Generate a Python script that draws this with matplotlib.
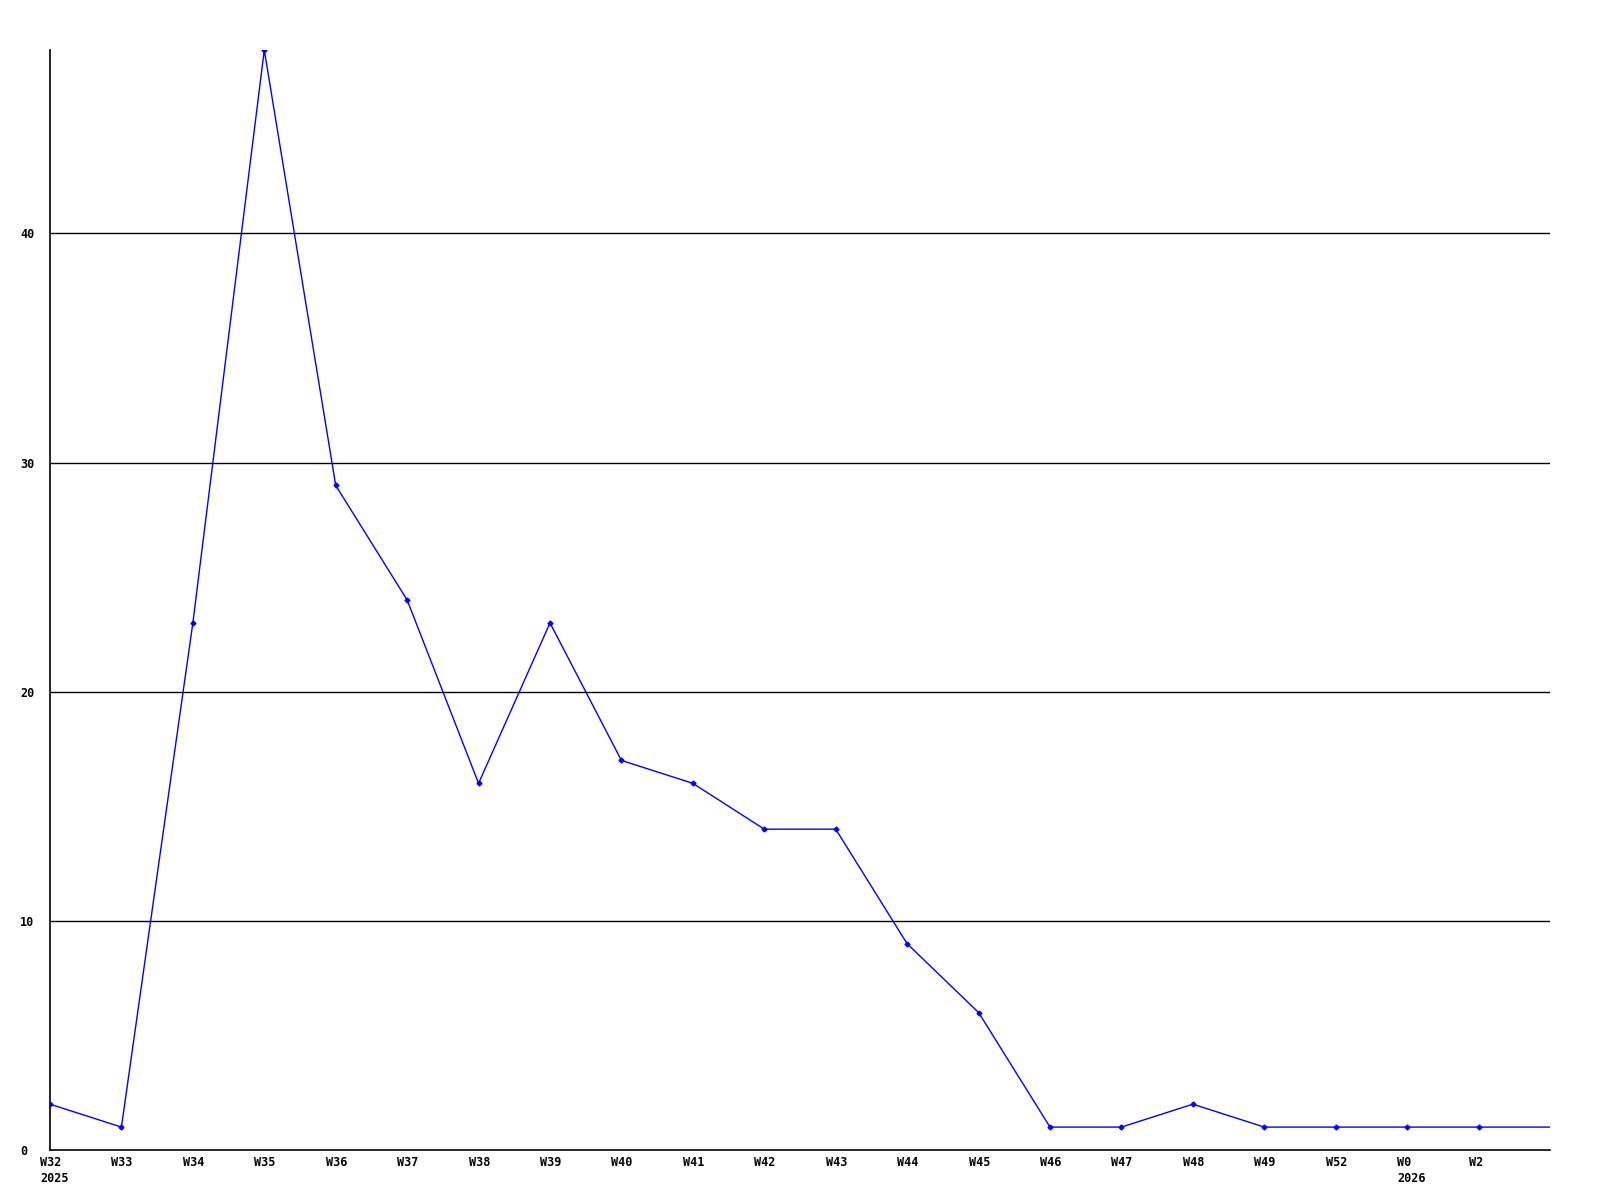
import numpy as np
import matplotlib.pyplot as plt
import matplotlib.transforms as mtransforms

weeks = ["W32\n2025", "W33", "W34", "W35", "W36", "W37", "W38", "W39", "W40",
         "W41", "W42", "W43", "W44", "W45", "W46", "W47", "W48", "W49",
         "W52", "W0\n2026", "W2"]
counts = [2, 1, 23, 48, 29, 24, 16, 23, 17, 16, 14, 14, 9, 6, 1, 1, 2, 1, 1, 1, 1, 1]
y_ticks = [0, 10, 20, 30, 40]

fig = plt.figure(figsize=(16, 12), dpi=100)
ax = fig.add_axes([50 / 1600, 50 / 1200, 1500 / 1600, 1100 / 1200])

x = np.arange(len(counts))
ax.plot(x, counts, color="#0000ff", linewidth=1, marker="D", markersize=2.5,
        markevery=list(range(len(weeks))), zorder=3)

for v in y_ticks[1:]:
    ax.axhline(v, color="black", linewidth=1, zorder=1)

ax.set_xlim(0, len(counts) - 1)
ax.set_ylim(0, max(counts))

for s in ["top", "right"]:
    ax.spines[s].set_visible(False)
for s in ["left", "bottom"]:
    ax.spines[s].set_linewidth(1.2)
    ax.spines[s].set_color("black")

font = dict(family="DejaVu Sans Mono", weight="bold", size=8.5)

ax.set_xticks(np.arange(len(weeks)))
ax.set_xticklabels(weeks, ha="left", linespacing=1.3, **font)
ax.tick_params(axis="x", length=0, pad=4.5)
offset = mtransforms.ScaledTranslation(-10 / 100, 0, fig.dpi_scale_trans)
for lbl in ax.get_xticklabels():
    lbl.set_transform(lbl.get_transform() + offset)

ax.set_yticks(y_ticks)
ax.set_yticklabels([str(v) for v in y_ticks], ha="left", **font)
ax.tick_params(axis="y", length=0, pad=21.6)

fig.savefig("out.png", dpi=100)
plt.close(fig)
